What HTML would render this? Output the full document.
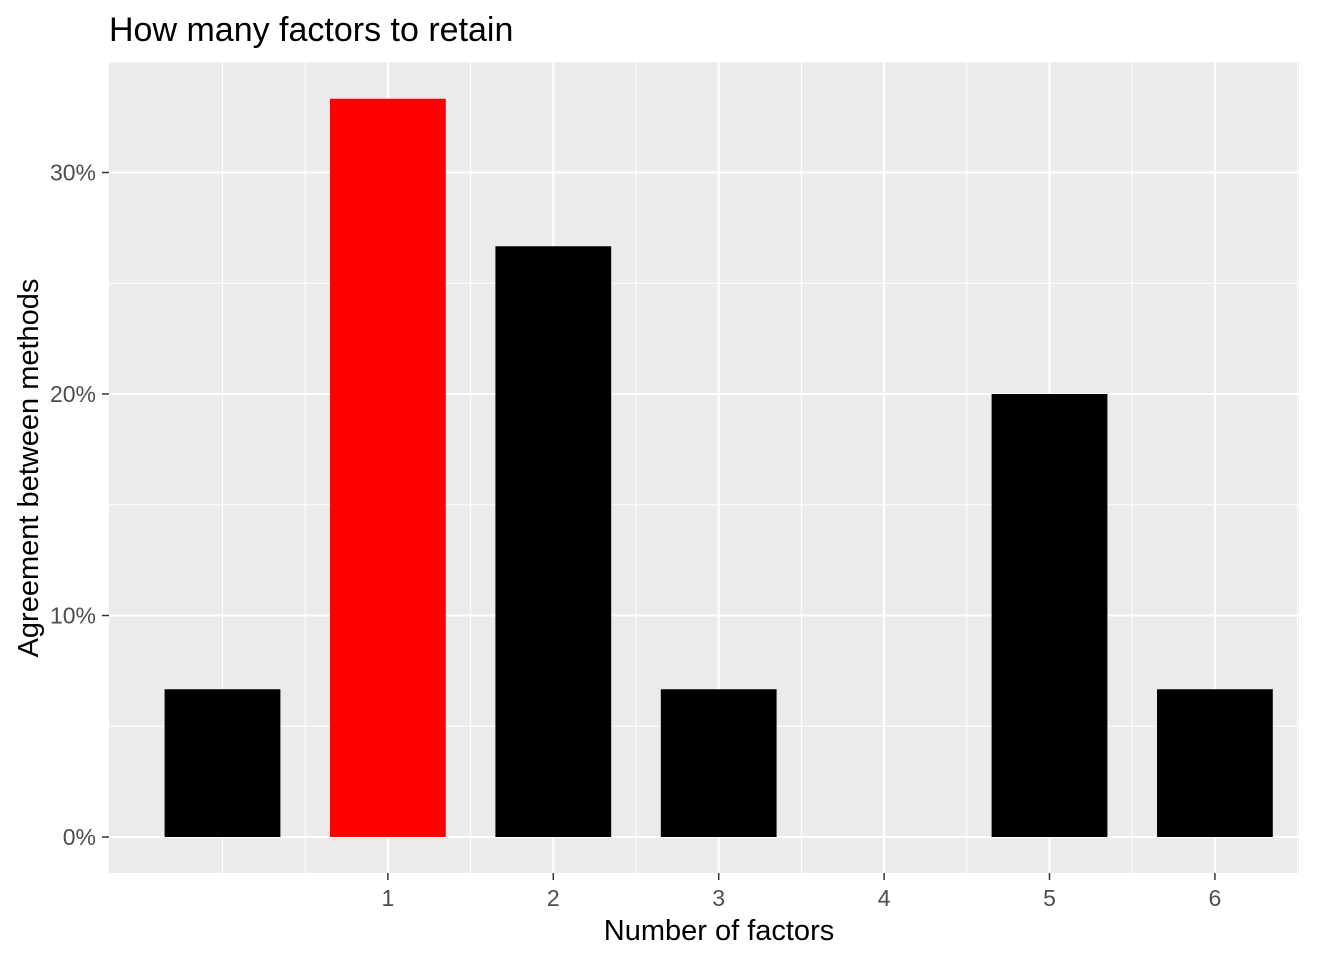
<!DOCTYPE html>
<html><head><meta charset="utf-8"><style>
body{margin:0;background:#fff;}
svg{display:block;font-family:"Liberation Sans",Arial,sans-serif;}
</style></head><body>
<svg id="chart" width="1344" height="960">
<rect x="0" y="0" width="1344" height="960" fill="#fff"/>
<text x="109" y="41" font-size="34" fill="#000">How many factors to retain</text>
<rect x="109" y="62" width="1190" height="811" fill="#ebebeb"/>
<g id="grid"></g>
<g id="bars"></g>
<g id="axes"></g>
<text x="719" y="940" font-size="29" text-anchor="middle" fill="#000">Number of factors</text>
<text transform="translate(38,468) rotate(-90)" font-size="29" text-anchor="middle" fill="#000">Agreement between methods</text>
</svg>
<script>
const categories=[0,1,2,3,4,5,6];
const xLabels=["","1","2","3","4","5","6"];
const values=[6.67,33.33,26.67,6.67,0,20,6.67];
const highlight=[false,true,false,false,false,false,false];
const yTicks=[0,10,20,30];
const yTickLabels=["0%","10%","20%","30%"];
const NS="http://www.w3.org/2000/svg";
const xScale=c=>222.5+c*165.4;
const yScale=v=>837-v*22.15;
const bw=0.7*165.4;
function mk(tag,attrs,parent){const e=document.createElementNS(NS,tag);for(const k in attrs)e.setAttribute(k,attrs[k]);parent.appendChild(e);return e;}
const grid=document.getElementById('grid'),bars=document.getElementById('bars'),axes=document.getElementById('axes');
for(let i=0;i<categories.length;i++){
  const x=xScale(categories[i]+0.5);
  const l=mk('line',{x1:x,x2:x,y1:62,y2:873,stroke:'#fff','stroke-width':1},grid);
  
  
}
for(let i=0;i<yTicks.length;i++){
  const y=yScale(yTicks[i]+5);
  const l=mk('line',{x1:109,x2:1299,y1:y,y2:y,stroke:'#fff','stroke-width':1},grid);
  
  
}
for(let i=0;i<categories.length;i++){
  const x=xScale(categories[i]);
  if(xLabels[i]===""){
    const m=mk('line',{x1:x,x2:x,y1:62,y2:873,stroke:'#fff','stroke-width':1},grid);
    
    
    continue;
  }
  const l=mk('line',{x1:x,x2:x,y1:62,y2:873,stroke:'#fff','stroke-width':2},grid);
  
  
  const t=mk('line',{x1:x,x2:x,y1:873,y2:880,stroke:'#333','stroke-width':1.5},axes);
  
  
  const tx=mk('text',{x:x,y:906,'font-size':23,'text-anchor':'middle',fill:'#4d4d4d'},axes);
  tx.textContent=xLabels[i];
  
  
}
for(let i=0;i<yTicks.length;i++){
  const y=yScale(yTicks[i]);
  const l=mk('line',{x1:109,x2:1299,y1:y,y2:y,stroke:'#fff','stroke-width':2},grid);
  
  
  const t=mk('line',{x1:102,x2:109,y1:y,y2:y,stroke:'#333','stroke-width':1.5},axes);
  
  
  const tx=mk('text',{x:96,y:y+8,'font-size':23,'text-anchor':'end',fill:'#4d4d4d'},axes);
  tx.textContent=yTickLabels[i];
  
  
}
for(let i=0;i<categories.length;i++){
  if(values[i]<=0)continue;
  const x=xScale(categories[i])-bw/2,y=yScale(values[i]);
  const r=mk('rect',{x:x,y:y,width:bw,height:yScale(0)-y,fill:highlight[i]?'#ff0000':'#000'},bars);
  
  
}
</script>
</body></html>
